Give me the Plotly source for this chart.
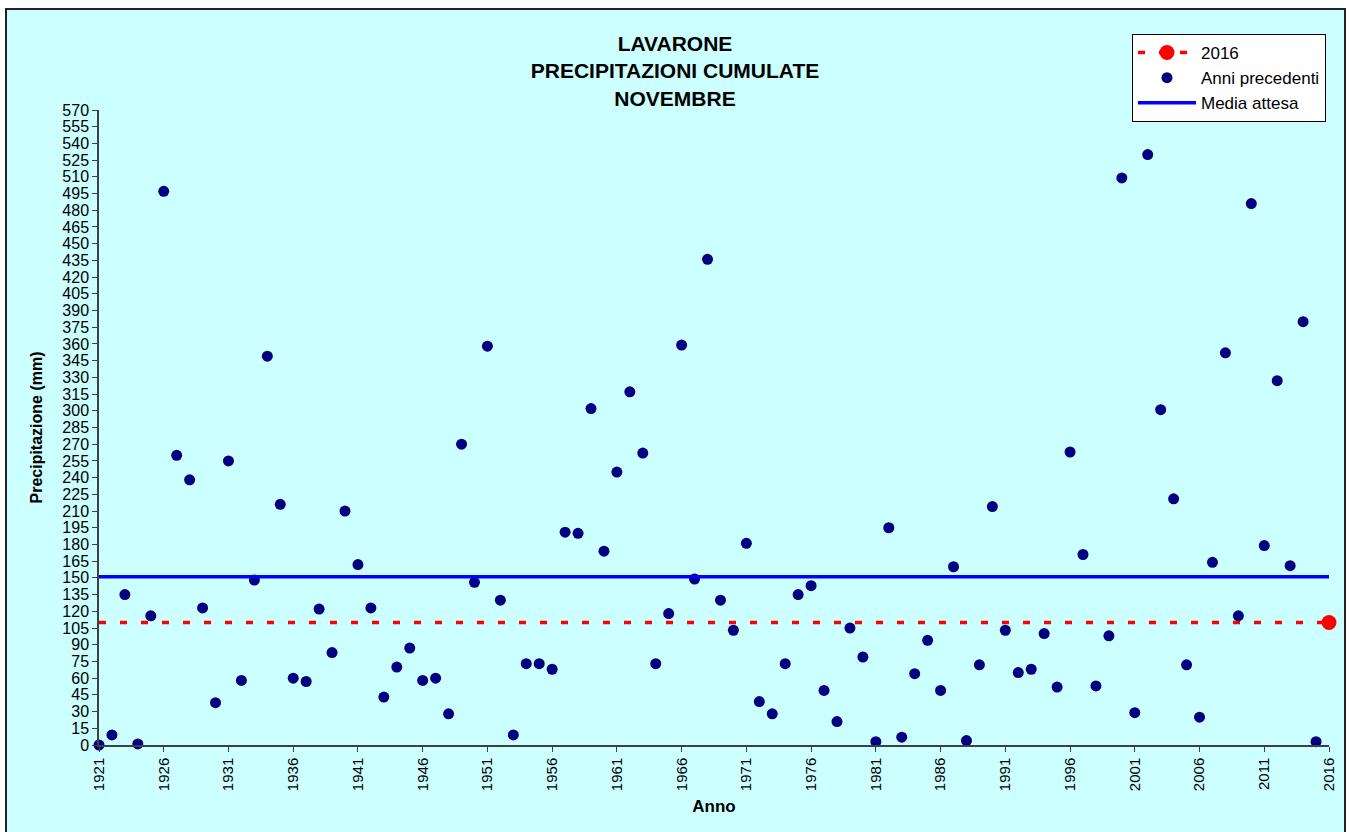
import plotly.graph_objects as go

# ---- data ----
anni = list(range(1921, 2016))
precipitazioni = [
    0, 9, 135, 1, 116, 497, 260, 238, 123, 38,          # 1921-1930
    255, 58, 148, 349, 216, 60, 57, 122, 83, 210,       # 1931-1940
    162, 123, 43, 70, 87, 58, 60, 28, 270, 146,         # 1941-1950
    358, 130, 9, 73, 73, 68, 191, 190, 302, 174,        # 1951-1960
    245, 317, 262, 73, 118, 359, 149, 436, 130, 103,    # 1961-1970
    181, 39, 28, 73, 135, 143, 49, 21, 105, 79,         # 1971-1980
    3, 195, 7, 64, 94, 49, 160, 4, 72, 214,             # 1981-1990
    103, 65, 68, 100, 52, 263, 171, 53, 98, 509,        # 1991-2000
    29, 530, 301, 221, 72, 25, 164, 352, 116, 486,      # 2001-2010
    179, 327, 161, 380, 3,                              # 2011-2015
]
anno_corrente = 2016
valore_corrente = 110
media_attesa = 151
x_ticks = list(range(1921, 2017, 5))
y_max = 570
y_step = 15

FONT = "Arial, Liberation Sans, sans-serif"
CYAN = "#CCFFFF"

fig = go.Figure()

# 2016 dashed reference line (legend entry drawn by the next trace)
fig.add_trace(go.Scatter(
    x=[anni[0], anno_corrente], y=[valore_corrente, valore_corrente],
    mode="lines", line=dict(color="#FF0000", width=3.5, dash="7px,14px"),
    showlegend=False, legendgroup="a", hoverinfo="skip", cliponaxis=False,
))
fig.add_trace(go.Scatter(
    x=[anno_corrente], y=[valore_corrente], name="2016",
    mode="lines+markers", line=dict(color="#FF0000", width=3.5, dash="7px,14px"),
    marker=dict(color="#FF0000", size=15), legendgroup="a", cliponaxis=False,
))
fig.add_trace(go.Scatter(
    x=anni, y=precipitazioni, name="Anni precedenti", mode="markers",
    marker=dict(color="#000080", size=11), legendgroup="b", cliponaxis=False,
))
fig.add_trace(go.Scatter(
    x=[anni[0], anno_corrente], y=[media_attesa, media_attesa], name="Media attesa",
    mode="lines", line=dict(color="#0000FF", width=3.5), legendgroup="c",
    cliponaxis=False,
))

# outer chart frame (pixel -> paper conversion: plot area 99..1329 x 110..745)
def px_x(p):
    return (p - 99) / 1230.0

def px_y(p):
    return (745 - p) / 635.0

fig.add_shape(type="rect", xref="paper", yref="paper",
              x0=px_x(6), x1=px_x(1345), y0=px_y(840), y1=px_y(9),
              fillcolor=CYAN, line=dict(color="#222222", width=2), layer="below")

fig.update_layout(
    width=1350, height=832,
    margin=dict(l=99, r=21, t=110, b=87),
    paper_bgcolor="white", plot_bgcolor=CYAN,
    font=dict(family=FONT, color="#000000", size=16),
    title=dict(
        text="<b>LAVARONE<br>PRECIPITAZIONI CUMULATE<br>NOVEMBRE</b>",
        x=675 / 1350, xanchor="center",
        y=(832 - 51) / 832, yanchor="top",
        font=dict(size=21, family=FONT, color="#000000"),
    ),
    legend=dict(
        x=px_x(1132), y=px_y(34), xanchor="left", yanchor="top",
        bgcolor="white", bordercolor="#000000", borderwidth=1,
        font=dict(size=17, family=FONT), itemwidth=58,
        traceorder="grouped", tracegroupgap=0,
    ),
    showlegend=True,
    hovermode="closest",
)

fig.update_xaxes(
    range=[anni[0], anno_corrente], tickmode="array", tickvals=x_ticks,
    ticktext=[str(v) for v in x_ticks], tickangle=-90,
    ticks="outside", ticklen=5, tickcolor="#404040", tickwidth=1,
    showline=True, linecolor="#404040", linewidth=1.5,
    showgrid=False, zeroline=False,
    tickfont=dict(size=15, family=FONT),
    title=dict(text="<b>Anno</b>", font=dict(size=17, family=FONT), standoff=10),
)
fig.update_yaxes(
    range=[0, y_max], tick0=0, dtick=y_step,
    ticks="outside", ticklen=5, tickcolor="#404040", tickwidth=1,
    showline=True, linecolor="#404040", linewidth=1.5,
    showgrid=False, zeroline=False,
    tickfont=dict(size=16, family=FONT),
    title=dict(text="<b>Precipitazione (mm)</b>", font=dict(size=16, family=FONT), standoff=16),
)

fig.write_html("out.html", config={"displayModeBar": False},
               post_script="document.body.style.margin='0';document.body.style.overflow='hidden';")
